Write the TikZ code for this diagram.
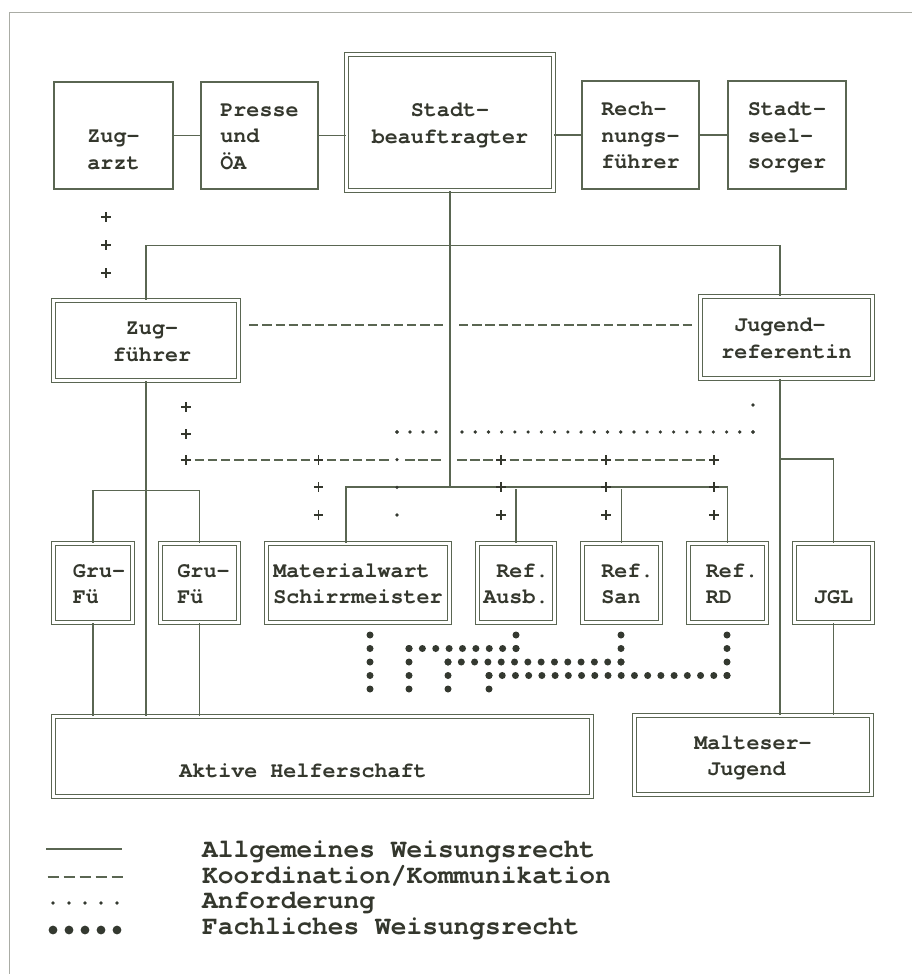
\documentclass[tikz,border=0pt]{standalone}
\usepackage{fontspec}
\newfontfamily\cur{texgyrecursor-bold.otf}
\definecolor{linecol}{RGB}{90,102,82}
\definecolor{textcol}{RGB}{52,55,45}
\definecolor{dotcol}{RGB}{52,57,48}
\definecolor{framecol}{RGB}{170,172,165}
\newcommand\lnx{\rule[-6pt]{0pt}{26.5pt}}
\newcommand\mainf{\cur\fontsize{21.7}{26.5}\selectfont}
\newcommand\legf{\cur\fontsize{26.2}{26}\selectfont}
\newcommand\dotrun[6]{\foreach \k in {0,...,#5}{\fill[dotcol] ({#1+(#3-#1)*\k/#5},{#2+(#4-#2)*\k/#5}) circle (#6pt);}}
\newcommand\dashrun[4]{\foreach \k in {1,...,#4}{\draw[dashseg] ({#1+(#2-#1)*(\k-1)/(#4-1)-4.6},#3) -- ++(9.2,0);}}
\begin{document}
\begin{tikzpicture}[x=1pt,y=-1pt,
  conn/.style={draw=linecol,line width=1.4pt},
  sbox/.style={draw=linecol,line width=1.6pt,inner sep=0pt,align=left,font=\mainf,text=textcol},
  dbox/.style={draw=linecol,double=white,double distance=2.6pt,line width=1.2pt,inner sep=0pt,font=\mainf,text=textcol},
  dashseg/.style={draw=linecol,line width=1.5pt},
  plusmark/.pic={\draw[textcol,line width=1.5pt] (-4.8,0) -- (4.8,0) (0,-4.8) -- (0,4.8);}
]
\fill[white] (0,0) rectangle (912,974);
\useasboundingbox (0,0) rectangle (912,974);
\draw[framecol,line width=1.5pt] (9.5,974) -- (9.5,12.5) -- (912,12.5);

% top row
\node[sbox,minimum width=119.5pt,minimum height=107.5pt] (zugarzt) at (113.5,135.5) {\lnx\\\lnx Zug-\\\lnx arzt};
\node[sbox,minimum width=117.5pt,minimum height=107.5pt] (presse) at (259.5,135.5) {\lnx Presse\\\lnx und\\\lnx ÖA};
\node[dbox,align=center,minimum width=207pt,minimum height=136pt] (stadt) at (450,122.5) {\lnx Stadt-\\\lnx beauftragter};
\node[sbox,minimum width=117.5pt,minimum height=107.5pt] (rech) at (640.5,135) {\lnx Rech-\\\lnx nungs-\\\lnx führer};
\node[sbox,minimum width=118.5pt,minimum height=108.5pt] (seel) at (787,135) {\lnx Stadt-\\\lnx seel-\\\lnx sorger};

\draw[conn] (zugarzt.east) -- (presse.west);
\draw[conn] (presse.east) -- (presse.east -| stadt.west);
\draw[conn] (rech.west) -- (rech.west -| stadt.east);
\draw[conn] (rech.east) -- (seel.west);

% second row
\node[dbox,align=center,minimum width=185.3pt,minimum height=80.3pt] (zf) at (146,340.5) {\lnx\hspace*{12pt}Zug-\\\lnx\hspace*{12pt}führer};
\node[dbox,align=left,minimum width=172.3pt,minimum height=82.3pt] (jr) at (786.5,337.5) {\lnx~Jugend-\\\lnx referentin};

% third row
\node[dbox,align=left,minimum width=79.3pt,minimum height=79.3pt] (g1) at (93,583) {\lnx\hspace*{12pt}Gru-\\\lnx\hspace*{12pt}Fü};
\node[dbox,align=left,minimum width=78.3pt,minimum height=79.3pt] (g2) at (199.5,583) {\lnx\hspace*{8pt}Gru-\\\lnx\hspace*{8pt}Fü};
\node[dbox,align=left,minimum width=182.8pt,minimum height=79.3pt] (mat) at (358,583) {\lnx Materialwart\\\lnx Schirrmeister};
\node[dbox,align=left,minimum width=77.3pt,minimum height=79.3pt] (ausb) at (516,583) {\lnx~Ref.\\\lnx Ausb.};
\node[dbox,align=left,minimum width=78.3pt,minimum height=79.3pt] (san) at (621.5,583) {\lnx\hspace*{12pt}Ref.\\\lnx\hspace*{12pt}San};
\node[dbox,align=left,minimum width=78.3pt,minimum height=79.3pt] (rd) at (727.5,583) {\lnx\hspace*{9pt}Ref.\\\lnx\hspace*{9pt}RD};
\node[dbox,align=center,minimum width=78.3pt,minimum height=79.3pt] (jgl) at (833.5,583) {\lnx\\\lnx JGL};

% bottom row
\node[dbox,align=center,minimum width=538.3pt,minimum height=80.3pt] (aktive) at (322.5,756.5) {\lnx\\\lnx Aktive Helferschaft\hphantom{xxx}};
\node[dbox,align=left,minimum width=237.3pt,minimum height=79.3pt] (mj) at (753,755) {\lnx Malteser-\\\lnx~Jugend};

% solid connectors
\coordinate (jrx) at (780,0);
\coordinate (matx) at (346,0);
\draw[conn] (stadt.south) -- (450,487);
\draw[conn] (zf.north) -- ++(0,-54) -| (jrx |- jr.north);
\draw[conn] (zf.south) -- (zf.south |- aktive.north);
\draw[conn] (g1.north) -- ++(0,-52) -| (g2.north);
\draw[conn] (g1.south) -- (g1.south |- aktive.north);
\draw[conn] (g2.south) -- (g2.south |- aktive.north);
\draw[conn] (matx |- mat.north) -- (346,487) -| (rd.north);
\draw[conn] (ausb.north) -- ++(0,-54);
\draw[conn] (san.north) -- ++(0,-54);
\draw[conn] (jrx |- jr.south) -- (jrx |- mj.north);
\draw[conn] (780,459) -| (jgl.north);
\draw[conn] (jgl.south) -- (jgl.south |- mj.north);

% Koordination dashes
\dashrun{253.75}{438.25}{325}{15}
\dashrun{463.75}{687.25}{325}{18}
\dashrun{199.26}{305.34}{460}{9}
\dashrun{331.67}{383.93}{460}{5}
\dashrun{410}{436}{460}{3}
\dashrun{462}{488}{460}{3}
\dashrun{514.1}{592.9}{460}{7}
\dashrun{619.5}{700.5}{460}{7}

% plus marks
\foreach \p in {(106,217),(106,245),(106,273),(186,407),(186,434),(186,460),
  (318.6,460),(501,460),(606,460),(714,460),
  (318.6,487),(318.6,515),(501,487),(501,515),(606,487),(606,515),(714,487),(714,515)}
  {\pic at \p {plusmark};}

% Anforderung (small dots)
\dotrun{753}{405}{753}{432}{1}{1.8}
\dotrun{753}{432}{462}{432}{22}{1.8}
\dotrun{436}{432}{397}{432}{3}{1.8}
\dotrun{397}{432}{397}{515}{3}{1.8}

% Fachliches Weisungsrecht (big dots)
\dotrun{370}{635}{370}{689}{4}{3.5}
\dotrun{516}{635}{516}{648.5}{1}{3.5}
\dotrun{516}{648.5}{409}{648.5}{8}{3.5}
\dotrun{409}{648.5}{409}{689}{3}{3.5}
\dotrun{621}{635}{621}{662}{2}{3.5}
\dotrun{621}{662}{448}{662}{13}{3.5}
\dotrun{448}{662}{448}{689}{2}{3.5}
\dotrun{727}{635}{727}{675.5}{3}{3.5}
\dotrun{727}{675.5}{489}{675.5}{18}{3.5}
\dotrun{489}{675.5}{489}{689}{1}{3.5}

% legend
\draw[conn,line width=1.5pt] (46,849) -- (122,849);
\foreach \k in {0,...,4}{\draw[dashseg] ({47.5+16*\k},877) -- ++(11,0);}
\dotrun{53}{903}{117}{903}{4}{1.8}
\dotrun{53}{930}{117}{930}{4}{4.4}
\node[anchor=base west,inner sep=0pt,font=\legf,text=textcol] (leg1) at (202,857) {Allgemeines Weisungsrecht};
\node[anchor=base west,inner sep=0pt,font=\legf,text=textcol] (leg2) at (202,883) {Koordination/Kommunikation};
\node[anchor=base west,inner sep=0pt,font=\legf,text=textcol] (leg3) at (202,908) {Anforderung};
\node[anchor=base west,inner sep=0pt,font=\legf,text=textcol] (leg4) at (202,934) {Fachliches Weisungsrecht};
\end{tikzpicture}
\end{document}
